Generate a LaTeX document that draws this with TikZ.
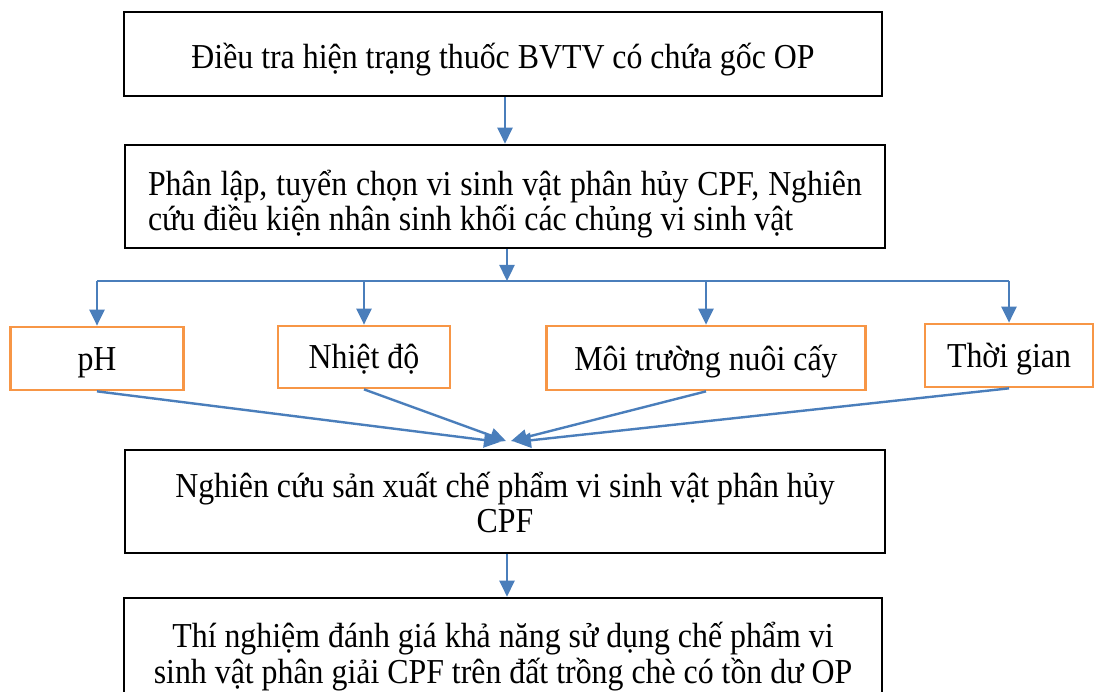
\documentclass[tikz,border=0pt]{standalone}
\usepackage{fontspec}
\setmainfont{Liberation Serif}[FakeStretch=0.91]
\usetikzlibrary{arrows.meta}
\definecolor{lblue}{HTML}{4A7EBB}
\definecolor{lorange}{HTML}{F79646}
\newcommand{\dn}[2]{\raisebox{-#1pt}[\height][\depth]{#2}}
\begin{document}
\begin{tikzpicture}[x=1pt,y=-1pt,
  blackbox/.style={draw=black, line width=2.6pt, inner sep=0pt, font=\fontsize{35}{35}\selectfont},
  orangebox/.style={draw=lorange, line width=2.7pt, inner sep=0pt, font=\fontsize{35}{35}\selectfont},
  arr/.style={draw=lblue, line width=2.4pt, -{Triangle[length=16pt,width=15pt]}},
  conn/.style={draw=lblue, line width=2.2pt}]
\useasboundingbox (0,0) rectangle (1094,692);
% main boxes
\node[blackbox, minimum width=758pt, minimum height=84pt] (top) at (503,54)
  {\dn{6}{Điều tra hiện trạng thuốc BVTV có chứa gốc OP}};
\node[blackbox, minimum width=760pt, minimum height=103pt] (phan) at (505,196.5)
  {\dn{8}{\parbox{714pt}{Phân lập, tuyển chọn vi sinh vật phân hủy CPF, Nghiên\linebreak cứu điều kiện nhân sinh khối các chủng vi sinh vật}}};
\node[blackbox, minimum width=760pt, minimum height=103pt] (sx) at (505,501.5)
  {\dn{6}{\begin{tabular}{@{}c@{}}Nghiên cứu sản xuất chế phẩm vi sinh vật phân hủy\\CPF\end{tabular}}};
\node[blackbox, minimum width=758pt, minimum height=108pt] (tn) at (503,652)
  {\dn{6}{\begin{tabular}{@{}c@{}}Thí nghiệm đánh giá khả năng sử dụng chế phẩm vi\\sinh vật phân giải CPF trên đất trồng chè có tồn dư OP\end{tabular}}};
% factor boxes
\node[orangebox, minimum width=173pt, minimum height=63pt] (ph) at (97,358.5) {\dn{4}{pH}};
\node[orangebox, minimum width=172pt, minimum height=62pt] (nd) at (364,357) {\dn{2}{Nhiệt độ}};
\node[orangebox, minimum width=319pt, minimum height=64pt] (mt) at (706,358) {\dn{4}{Môi trường nuôi cấy}};
\node[orangebox, minimum width=168pt, minimum height=63pt] (tg) at (1009,355.5) {\dn{4}{Thời gian}};
% junction coordinates
\coordinate (j) at (507,281);
\coordinate (jl) at (97,281);
\coordinate (jn) at (364,281);
\coordinate (jm) at (706,281);
\coordinate (jr) at (1009,281);
\coordinate (e1) at (500,442);
\coordinate (e2) at (506,441);
\coordinate (e3) at (511,441);
\coordinate (e4) at (515,442);
% connectors
\draw[arr] (top.south -| 505,0) -- (phan.north -| 505,0);
\draw[arr] (phan.south -| j) -- (j);
\draw[conn] (jl) -- (jr);
\draw[arr] (jl) -- (ph.north);
\draw[arr] (jn) -- (nd.north);
\draw[arr] (jm) -- (mt.north);
\draw[arr] (jr) -- (tg.north);
\draw[arr] (ph.south) -- (e1);
\draw[arr] (nd.south) -- (e2);
\draw[arr] (mt.south) -- (e3);
\draw[arr] (tg.south) -- (e4);
\draw[arr] (sx.south -| 507,0) -- (tn.north -| 507,0);
\end{tikzpicture}
\end{document}
